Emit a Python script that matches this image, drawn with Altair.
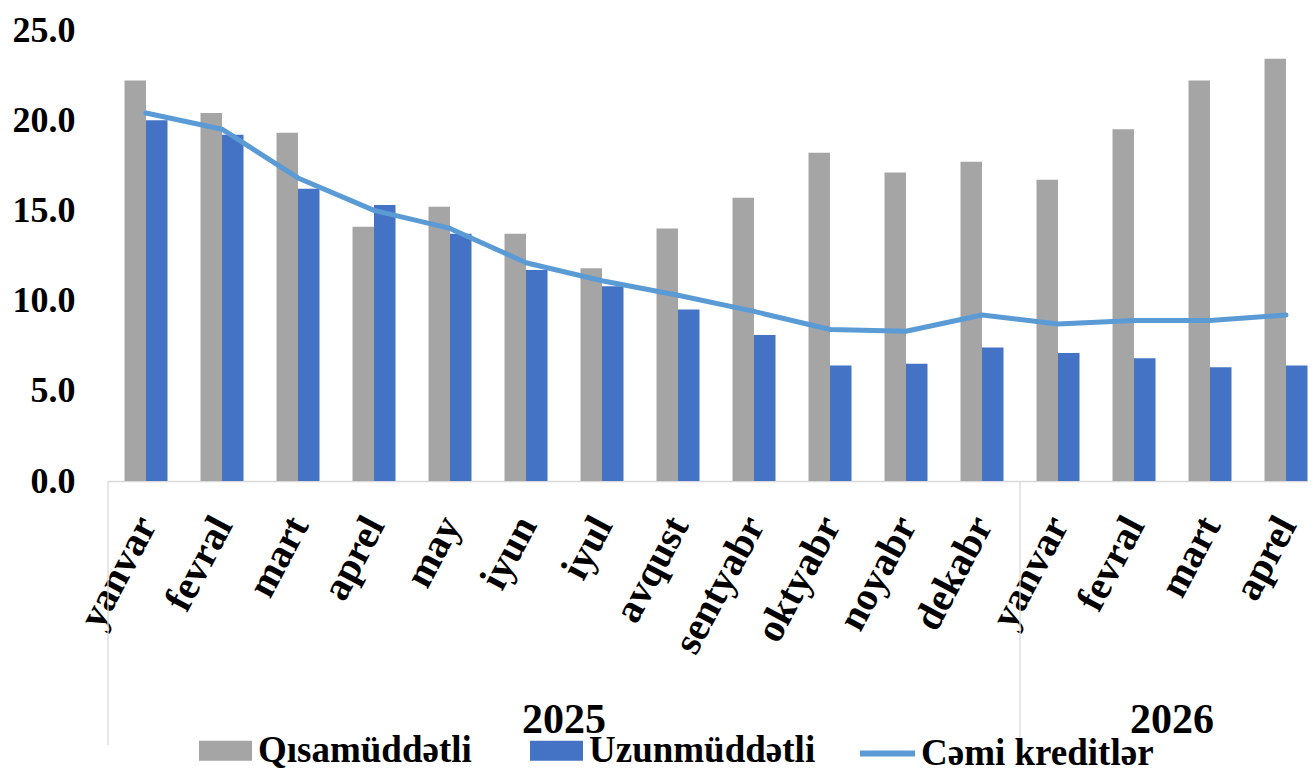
import altair as alt
import pandas as pd

# ---------------- data ----------------
months = ["yanvar", "fevral", "mart", "aprel", "may", "iyun", "iyul", "avqust",
          "sentyabr", "oktyabr", "noyabr", "dekabr", "yanvar", "fevral", "mart", "aprel"]
years = ["2025"] * 12 + ["2026"] * 4
short_term = [22.2, 20.4, 19.3, 14.1, 15.2, 13.7, 11.8, 14.0, 15.7, 18.2, 17.1, 17.7,
              16.7, 19.5, 22.2, 23.4]
long_term = [20.0, 19.2, 16.2, 15.3, 13.7, 11.7, 10.8, 9.5, 8.1, 6.4, 6.5, 7.4,
             7.1, 6.8, 6.3, 6.4]
total = [20.4, 19.5, 16.8, 15.0, 14.0, 12.1, 11.1, 10.3, 9.4, 8.4, 8.3, 9.2,
         8.7, 8.9, 8.9, 9.2]
series_names = ["Qısamüddətli", "Uzunmüddətli"]
line_name = "Cəmi kreditlər"
y_ticks = [0, 5, 10, 15, 20, 25]

# ---------------- tables ----------------
keys = [f"{m}|{y}" for m, y in zip(months, years)]
n = len(keys)
bars_df = pd.DataFrame({
    "key": keys * 2,
    "series": [series_names[0]] * n + [series_names[1]] * n,
    "value": short_term + long_term,
})
line_df = pd.DataFrame({"key": keys, "name": [line_name] * n, "value": total})

year_order = []
for y in years:
    if y not in year_order:
        year_order.append(y)
counts = [years.count(y) for y in year_order]
starts = [sum(counts[:i]) for i in range(len(counts))]
centers = [s + c / 2 for s, c in zip(starts, counts)]
rules_df = pd.DataFrame({"pos": starts})
years_df = pd.DataFrame({"pos": centers, "year": year_order})

# ---------------- layout / style ----------------
FONT = "Liberation Serif"
W, H = 1200, 451
STEP, GAP, LEFT_GAP = 76.0, 33.0, 16.5
p_inner = GAP / STEP
p_outer = (W / STEP - (n - p_inner)) / 2
align = LEFT_GAP / (W - STEP * (n - p_inner))
lin_max = W / STEP

xband = alt.Scale(paddingInner=p_inner, paddingOuter=p_outer, align=align)
x_axis = alt.Axis(
    title=None, labelExpr="split(datum.label, '|')[0]", labelAngle=-62,
    labelAlign="right", labelBaseline="middle", labelFont=FONT, labelFontSize=40,
    labelFontWeight="bold", labelColor="black", labelPadding=38, labelOffset=1,
    ticks=False, domainColor="#D9D9D9", domainWidth=1.3, labelOverlap=False,
    labelLimit=400,
)
y_axis = alt.Axis(
    title=None, values=y_ticks, format=".1f", grid=False, domain=False, ticks=False,
    labelFont=FONT, labelFontSize=36, labelFontWeight="bold", labelColor="black",
    labelPadding=33,
)
yscale = alt.Scale(domain=[0, 25], nice=False)

bars = alt.Chart(bars_df).mark_bar().encode(
    x=alt.X("key:N", sort=keys, scale=xband, axis=x_axis),
    xOffset=alt.XOffset("series:N", sort=series_names),
    y=alt.Y("value:Q", scale=yscale, axis=y_axis),
    color=alt.Color(
        "series:N", sort=series_names,
        scale=alt.Scale(domain=series_names, range=["#A5A5A5", "#4472C4"]),
        legend=alt.Legend(
            orient="none", legendX=91, legendY=694, direction="horizontal", title=None,
            symbolType="M-1,-0.38H1V0.38H-1Z", symbolSize=2809, symbolStrokeWidth=0,
            symbolOpacity=1, labelFont=FONT, labelFontSize=37, labelFontWeight="bold",
            labelColor="black", labelOffset=6, columnPadding=58, padding=0,
            labelLimit=400,
        ),
    ),
)

line = alt.Chart(line_df).mark_line(strokeWidth=5, strokeCap="round", strokeJoin="round").encode(
    x=alt.X("key:N", sort=keys, scale=xband, axis=x_axis),
    y=alt.Y("value:Q", scale=yscale, axis=y_axis),
    stroke=alt.Stroke(
        "name:N",
        scale=alt.Scale(domain=[line_name], range=["#5B9BD5"]),
        legend=alt.Legend(
            orient="none", legendX=749, legendY=693, direction="horizontal", title=None,
            symbolType="stroke", symbolSize=3025, symbolStrokeWidth=6,
            labelFont=FONT, labelFontSize=37, labelFontWeight="bold",
            labelColor="black", labelOffset=3, padding=0, labelLimit=400,
        ),
    ),
)

linx = alt.Scale(domain=[0, lin_max], nice=False, zero=False)
rules = alt.Chart(rules_df).mark_rule(color="#D9D9D9", strokeWidth=1.3).encode(
    x=alt.X("pos:Q", scale=linx, axis=None),
    y=alt.value(H),
    y2=alt.value(715),
)
year_text = alt.Chart(years_df).mark_text(
    font=FONT, fontSize=42, fontWeight="bold", color="black",
    align="center", baseline="middle",
).encode(
    x=alt.X("pos:Q", scale=linx, axis=None),
    y=alt.value(690),
    text="year:N",
)

chart = alt.layer(
    alt.layer(bars, line),
    alt.layer(rules, year_text),
).resolve_scale(x="independent").properties(
    width=W, height=H,
    padding={"left": 100, "top": 22, "right": 0, "bottom": 291},
    autosize=alt.AutoSizeParams(type="none"),
    background="white",
).configure_view(stroke=None)

chart.save("out.html", embed_options={"renderer": "svg", "actions": False})
